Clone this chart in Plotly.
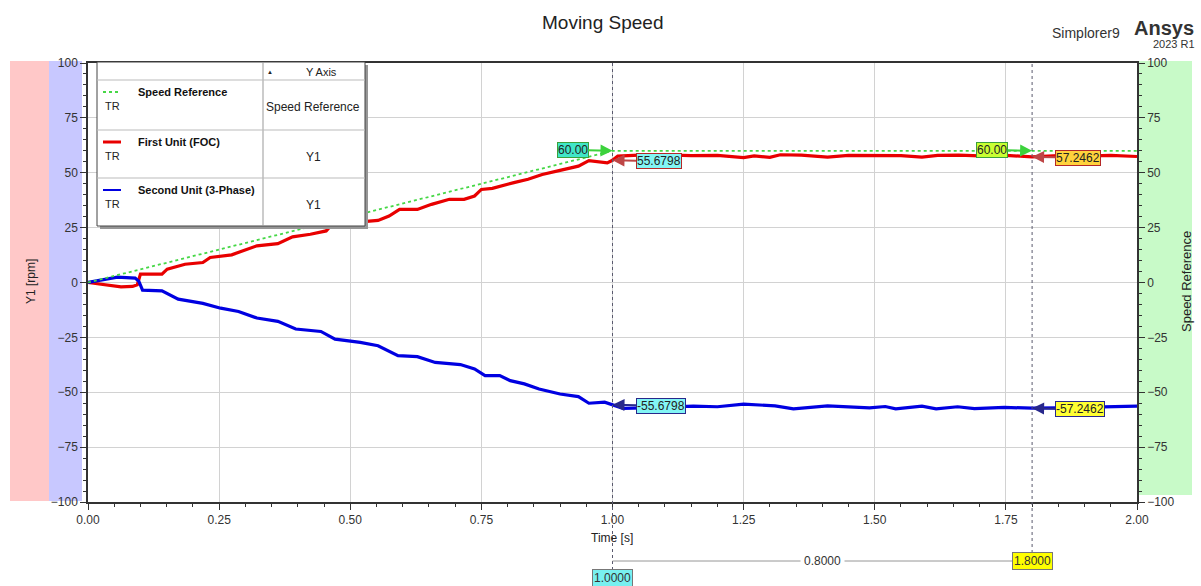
import plotly.graph_objects as go

W, H = 1201, 586

# ---------------- data ----------------
ref_time = [0.0, 1.0, 2.0]
ref_speed = [0.0, 60.0, 60.0]

first_time = [0.00, 0.02, 0.04, 0.063, 0.085, 0.094, 0.10, 0.141, 0.151, 0.185, 0.219, 0.233,
              0.274, 0.294, 0.322, 0.362, 0.39, 0.424, 0.454, 0.465, 0.50, 0.529, 0.553, 0.574,
              0.594, 0.628, 0.655, 0.689, 0.717, 0.737, 0.75, 0.771, 0.785, 0.812, 0.839, 0.866,
              0.90, 0.935, 0.955, 0.975, 0.99, 1.00, 1.01, 1.05, 1.10, 1.15, 1.20, 1.25, 1.27,
              1.30, 1.32, 1.36, 1.41, 1.45, 1.50, 1.55, 1.59, 1.62, 1.66, 1.70, 1.75, 1.80,
              1.85, 1.90, 1.95, 2.00]
first_speed = [0.0, -0.6, -1.5, -2.0, -1.8, -1.0, 3.8, 3.8, 6.1, 8.3, 9.1, 11.4,
               12.6, 14.4, 16.7, 17.7, 20.8, 22.0, 23.5, 26.5, 27.3, 28.0, 28.3, 30.3,
               33.3, 33.3, 35.6, 37.9, 37.9, 39.4, 42.4, 42.9, 43.9, 45.5, 47.0, 49.2,
               51.1, 53.0, 55.5, 54.8, 54.5, 55.68, 57.6, 58.0, 58.1, 57.8, 57.9, 56.9, 57.7,
               57.0, 58.2, 58.0, 57.1, 57.9, 58.0, 57.8, 57.1, 57.9, 58.0, 57.7, 57.9, 57.25,
               57.8, 57.6, 57.9, 57.4]

second_time = [0.00, 0.02, 0.035, 0.056, 0.09, 0.097, 0.104, 0.141, 0.172, 0.219, 0.253, 0.287,
               0.322, 0.362, 0.396, 0.444, 0.471, 0.519, 0.553, 0.591, 0.628, 0.662, 0.71,
               0.737, 0.757, 0.785, 0.805, 0.832, 0.86, 0.90, 0.935, 0.955, 0.985, 1.00, 1.02,
               1.08, 1.154, 1.20, 1.25, 1.31, 1.345, 1.41, 1.49, 1.52, 1.54, 1.59, 1.617,
               1.658, 1.69, 1.747, 1.80, 1.85, 1.90, 1.958, 2.00]
second_speed = [0.0, 0.9, 1.8, 2.4, 2.0, 0.5, -3.5, -3.8, -7.6, -9.5, -11.7, -13.2,
                -16.2, -17.7, -21.2, -22.3, -25.8, -27.3, -28.8, -33.3, -33.8, -36.4, -37.4,
                -39.4, -42.4, -42.4, -44.7, -46.2, -48.5, -50.8, -52.0, -55.0, -54.5, -55.68,
                -57.3, -57.0, -56.3, -56.6, -55.4, -56.2, -57.6, -56.2, -57.1, -56.5, -57.6,
                -56.3, -57.6, -56.6, -57.5, -56.9, -57.25, -57.1, -56.9, -56.8, -56.3]

cursor_times = [1.0, 1.8]
cursor_ref = ["60.00", "60.00"]
cursor_first = ["55.6798", "57.2462"]
cursor_second = ["-55.6798", "-57.2462"]
cursor_ref_val = [60.0, 60.0]
cursor_first_val = [55.6798, 57.2462]
cursor_second_val = [-55.6798, -57.2462]
delta_label = "0.8000"
cursor_time_labels = ["1.0000", "1.8000"]

y_ticks = [-100, -75, -50, -25, 0, 25, 50, 75, 100]
x_ticks = [0.0, 0.25, 0.5, 0.75, 1.0, 1.25, 1.5, 1.75, 2.0]
x_ticklabels = ["0.00", "0.25", "0.50", "0.75", "1.00", "1.25", "1.50", "1.75", "2.00"]

legend_names = ["Speed Reference", "First Unit (FOC)", "Second Unit (3-Phase)"]
legend_axes = ["Speed Reference", "Y1", "Y1"]

# ---------------- styles ----------------
FONT = "Arial, 'Liberation Sans', sans-serif"
RED = "rgb(232,0,0)"
BLUE = "rgb(0,0,225)"
GREEN = "rgb(70,215,70)"


def px(x):
    return x / W


def py(y):
    return 1 - y / H


def label(x, y, text, size=12, xanchor="center", color="#222", **kw):
    return dict(x=px(x), y=py(y), xref="paper", yref="paper", text=text, showarrow=False,
                xanchor=xanchor, yanchor="middle", font=dict(family=FONT, size=size, color=color), **kw)


fig = go.Figure()
fig.add_trace(go.Scatter(x=ref_time, y=ref_speed, mode="lines", yaxis="y2",
                         line=dict(color=GREEN, width=1.8, dash="dot"), name=legend_names[0]))
fig.add_trace(go.Scatter(x=first_time, y=first_speed, mode="lines",
                         line=dict(color=RED, width=3.2), name=legend_names[1]))
fig.add_trace(go.Scatter(x=second_time, y=second_speed, mode="lines",
                         line=dict(color=BLUE, width=3.2), name=legend_names[2]))

shapes = []
annotations = []

# colored axis bands
shapes.append(dict(type="rect", xref="paper", yref="paper", x0=px(10), x1=px(49), y0=py(501), y1=py(61),
                   fillcolor="rgb(255,200,200)", line=dict(width=0), layer="below"))
shapes.append(dict(type="rect", xref="paper", yref="paper", x0=px(49), x1=px(82), y0=py(501), y1=py(61),
                   fillcolor="rgb(200,200,255)", line=dict(width=0), layer="below"))
shapes.append(dict(type="rect", xref="paper", yref="paper", x0=px(1138), x1=px(1192), y0=py(495), y1=py(61),
                   fillcolor="rgb(200,250,200)", line=dict(width=0), layer="below"))

# cursor vertical lines
cursor_bottoms = [570, 553]
for t, yb in zip(cursor_times, cursor_bottoms):
    shapes.append(dict(type="line", xref="x", yref="paper", x0=t, x1=t, y0=py(yb), y1=py(61),
                       line=dict(color="rgb(90,90,110)", width=1, dash="dot"), layer="above"))
# delta line
shapes.append(dict(type="line", xref="x", yref="paper", x0=cursor_times[0], x1=cursor_times[1],
                   y0=py(561), y1=py(561), line=dict(color="rgb(150,150,150)", width=1)))
annotations.append(dict(x=(cursor_times[0] + cursor_times[1]) / 2, y=py(561), xref="x", yref="paper",
                        text=delta_label, showarrow=False, bgcolor="white", xanchor="center", yanchor="middle",
                        borderpad=3, font=dict(family=FONT, size=12, color="#333")))
annotations.append(dict(x=cursor_times[1], y=py(561), xref="x", yref="paper", text=cursor_time_labels[1],
                        showarrow=False, bgcolor="rgb(255,255,0)", bordercolor="#777", borderpad=1,
                        xanchor="center", yanchor="middle", font=dict(family=FONT, size=12, color="#333")))
annotations.append(dict(x=cursor_times[0], y=py(578), xref="x", yref="paper", text=cursor_time_labels[0],
                        showarrow=False, bgcolor="rgb(120,240,240)", bordercolor="#777", borderpad=1,
                        xanchor="center", yanchor="middle", font=dict(family=FONT, size=12, color="#333")))

# cursor value markers
ref_fill = ["rgb(64,230,200)", "rgb(200,255,50)"]
first_fill = ["rgb(130,245,245)", "rgb(255,210,60)"]
second_fill = ["rgb(130,245,245)", "rgb(255,255,50)"]
for i, t in enumerate(cursor_times):
    annotations.append(dict(x=t, y=cursor_ref_val[i], xref="x", yref="y", text=cursor_ref[i],
                            showarrow=True, ax=-40, ay=-1, arrowhead=2, arrowsize=1.2, arrowwidth=2,
                            arrowcolor="rgb(60,210,60)", bgcolor=ref_fill[i], bordercolor="rgb(60,160,60)",
                            borderpad=0, font=dict(family=FONT, size=12, color="#222")))
    annotations.append(dict(x=t, y=cursor_first_val[i], xref="x", yref="y", text=cursor_first[i],
                            showarrow=True, ax=46, ay=1, arrowhead=2, arrowsize=1.2, arrowwidth=2,
                            arrowcolor="rgb(190,70,70)", bgcolor=first_fill[i], bordercolor="rgb(180,40,40)",
                            borderpad=0, font=dict(family=FONT, size=12, color="#222")))
    annotations.append(dict(x=t, y=cursor_second_val[i], xref="x", yref="y", text=cursor_second[i],
                            showarrow=True, ax=48, ay=1, arrowhead=2, arrowsize=1.2, arrowwidth=2,
                            arrowcolor="rgb(40,40,140)", bgcolor=second_fill[i], bordercolor="rgb(40,40,140)",
                            borderpad=0, font=dict(family=FONT, size=12, color="#222")))

# legend table
L, R, T, B, MID = 97, 365, 62, 226, 263
shapes.append(dict(type="rect", xref="paper", yref="paper", x0=px(L + 3), x1=px(R + 3), y0=py(B + 3), y1=py(T + 3),
                   fillcolor="rgb(150,150,150)", line=dict(width=0), layer="above"))
shapes.append(dict(type="rect", xref="paper", yref="paper", x0=px(L), x1=px(R), y0=py(B), y1=py(T),
                   fillcolor="white", line=dict(color="#444", width=1), layer="above"))
shapes.append(dict(type="line", xref="paper", yref="paper", x0=px(MID), x1=px(MID), y0=py(B), y1=py(T),
                   line=dict(color="#999", width=1), layer="above"))
for yl in [80, 130, 178]:
    shapes.append(dict(type="line", xref="paper", yref="paper", x0=px(L), x1=px(R), y0=py(yl), y1=py(yl),
                       line=dict(color="#bbb", width=1), layer="above"))
annotations.append(label(270, 72, "▲", size=6))
annotations.append(label(322, 72, "Y Axis", size=11))
row_tops = [80, 130, 178]
line_styles = [dict(color=GREEN, width=1.8, dash="dot"), dict(color=RED, width=3), dict(color=BLUE, width=2)]
for i, top in enumerate(row_tops):
    ly = top + 12
    shapes.append(dict(type="line", xref="paper", yref="paper", x0=px(103), x1=px(121), y0=py(ly), y1=py(ly),
                       line=line_styles[i], layer="above"))
    annotations.append(label(136, top + 12, "<b>" + legend_names[i] + "</b>", size=11, xanchor="left",
                             color="#111"))
    annotations.append(label(103, top + 26, "TR", size=11, xanchor="left"))
    annotations.append(label(313, top + 27, legend_axes[i], size=12))

# titles / labels
annotations.append(label(602, 22, "Moving Speed", size=19))
annotations.append(label(1122, 33, "Simplorer9", size=14, xanchor="right", color="#333"))
annotations.append(label(1196, 28, "<b>Ansys</b>", size=20, xanchor="right", color="#333"))
annotations.append(label(1197, 44, "2023 R1", size=11, xanchor="right", color="#333"))
annotations.append(label(31, 282, "Y1 [rpm]", size=12, textangle=-90))
annotations.append(label(1186, 282, "Speed Reference", size=13, textangle=-90))
annotations.append(label(612, 538, "Time [s]", size=12))

axis_common = dict(range=[-100, 100], tickvals=y_ticks, ticks="outside", ticklen=6, tickcolor="#333",
                   showline=True, linecolor="#333", linewidth=1.5, zeroline=False,
                   tickfont=dict(family=FONT, size=12, color="#333"),
                   minor=dict(dtick=5, tick0=0, ticks="outside", ticklen=3, tickcolor="#333", showgrid=False))

fig.update_layout(
    width=W, height=H, autosize=False,
    margin=dict(l=0, r=0, t=0, b=0, pad=0),
    paper_bgcolor="white", plot_bgcolor="white",
    showlegend=False,
    xaxis=dict(domain=[px(88), px(1137)], range=[0, 2], tickvals=x_ticks, ticktext=x_ticklabels,
               ticks="outside", ticklen=6, tickcolor="#333", showline=True, linecolor="#333", linewidth=1.5,
               mirror=True, showgrid=True, gridcolor="rgb(210,210,210)", gridwidth=1, zeroline=False,
               automargin=False, tickfont=dict(family=FONT, size=12, color="#333"),
               minor=dict(dtick=0.05, tick0=0, ticks="outside", ticklen=3, tickcolor="#333", showgrid=False)),
    yaxis=dict(domain=[py(502), py(63)], showgrid=True, gridcolor="rgb(210,210,210)", gridwidth=1,
               automargin=False, **axis_common),
    yaxis2=dict(overlaying="y", side="right", showgrid=False, automargin=False, **axis_common),
    shapes=shapes,
    annotations=annotations,
)

fig.write_html("out.html",
               post_script="document.body.style.margin='0';document.body.style.overflow='hidden';")
